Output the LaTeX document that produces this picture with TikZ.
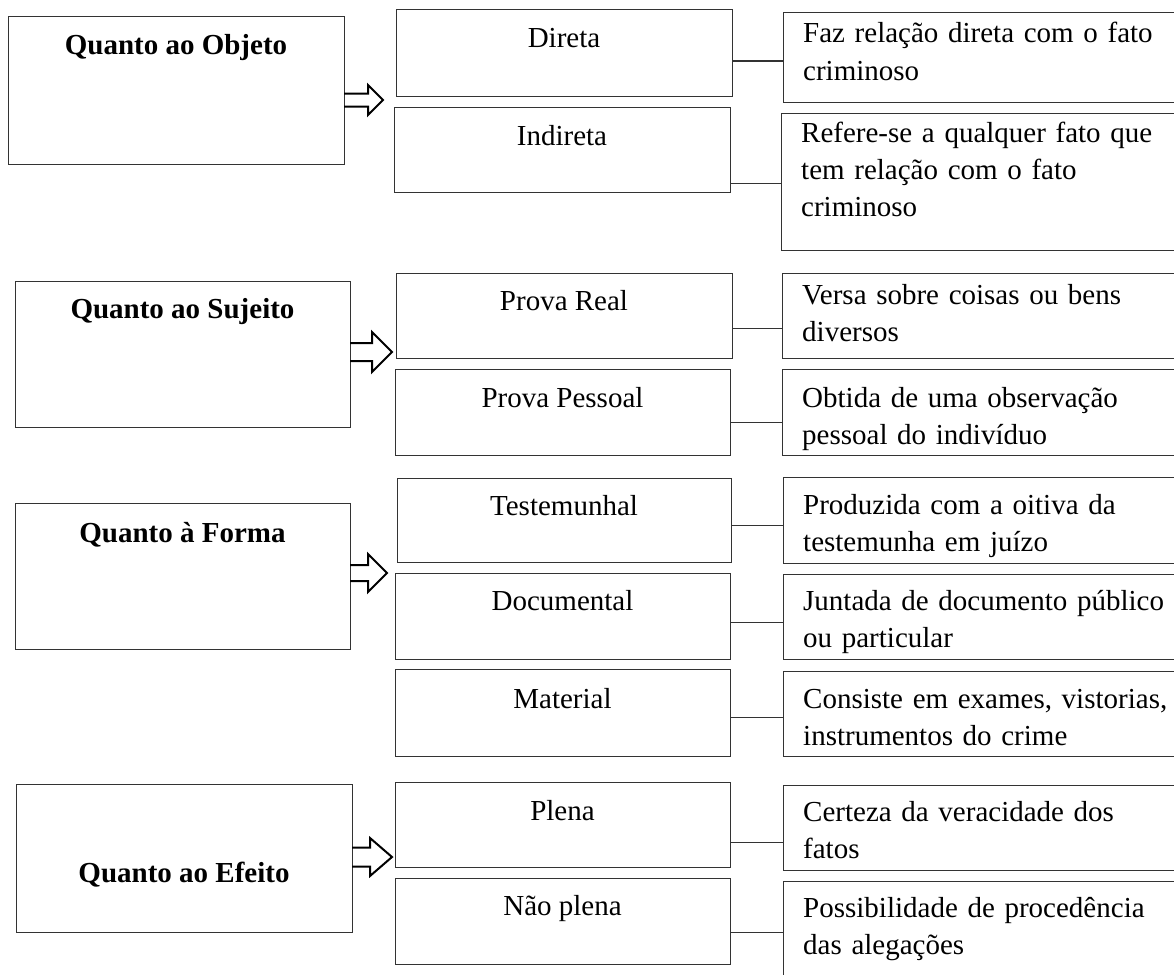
\documentclass[tikz,border=0pt]{standalone}
\usepackage{fontspec}
\setmainfont{Liberation Serif}
\tikzset{
  box/.style={draw=black!80, line width=1pt, inner sep=0pt, outer sep=0pt, fill=none},
  midtxt/.style={anchor=base, inner sep=0pt, font=\fontsize{29}{37}\selectfont},
  ttl/.style={anchor=base, inner sep=0pt, font=\fontsize{29}{37}\selectfont\bfseries},
  rtxt/.style={anchor=base west, inner sep=0pt, text width=380pt, align=left, font=\fontsize{29}{37}\selectfont},
  link/.style={draw=black!80, line width=1pt},
  blk/.style={draw=black, line width=2pt, line join=miter}
}
\newcommand\bx[5]{\node[box, minimum width={(#4-#2)*1pt}, minimum height={(#5-#3)*1pt}] (#1) at ({(#2+#4)/2},{(#3+#5)/2}) {};}
\begin{document}
\begin{tikzpicture}[x=1pt,y=-1pt]
\useasboundingbox (0,0) rectangle (1174,974);
\clip (0,0) rectangle (1174,974);
% left boxes
\bx{L1}{8}{17}{344}{164}
\bx{L2}{15}{281}{350}{427}
\bx{L3}{15}{503}{350}{649}
\bx{L4}{16}{784}{352}{932}
\node[ttl] (tL1) at (L1.center |- 0,55) {Quanto ao Objeto};
\node[ttl] (tL2) at (L2.center |- 0,318) {Quanto ao Sujeito};
\node[ttl] (tL3) at (L3.center |- 0,542) {Quanto à Forma};
\node[ttl] (tL4) at (L4.center |- 0,882) {Quanto ao Efeito};
% middle boxes
\bx{M1}{396}{10}{732}{96}
\bx{M2}{394}{107}{730}{192}
\bx{M3}{396}{273}{732}{358}
\bx{M4}{395}{369}{730}{455}
\bx{M5}{397}{478}{731}{562}
\bx{M6}{395}{573}{730}{659}
\bx{M7}{395}{669}{730}{756}
\bx{M8}{395}{782}{730}{867}
\bx{M9}{395}{878}{730}{964}
\node[midtxt] (tM1) at (M1.center |- 0,48) {Direta};
\node[midtxt] (tM2) at (M2.center |- 0,145) {Indireta};
\node[midtxt] (tM3) at (M3.center |- 0,310) {Prova Real};
\node[midtxt] (tM4) at (M4.center |- 0,407) {Prova Pessoal};
\node[midtxt] (tM5) at (M5.center |- 0,515) {Testemunhal};
\node[midtxt] (tM6) at (M6.center |- 0,610) {Documental};
\node[midtxt] (tM7) at (M7.center |- 0,708) {Material};
\node[midtxt] (tM8) at (M8.center |- 0,820) {Plena};
\node[midtxt] (tM9) at (M9.center |- 0,915) {Não plena};
% right boxes
\bx{R1}{783}{13}{1200}{102}
\bx{R2}{781}{113}{1200}{250}
\bx{R3}{782}{273}{1200}{358}
\bx{R4}{782}{369}{1200}{455}
\bx{R5}{783}{477}{1200}{563}
\bx{R6}{783}{574}{1200}{659}
\bx{R7}{783}{671}{1200}{756}
\bx{R8}{783}{785}{1200}{870}
\bx{R9}{783}{881}{1200}{1000}
\node[rtxt] (tR1) at (803,43) {Faz relação direta com o fato\\criminoso};
\node[rtxt] (tR2) at (801,142) {Refere-se a qualquer fato que\\tem relação com o fato\\criminoso};
\node[rtxt] (tR3) at (802,304) {Versa sobre coisas ou bens\\diversos};
\node[rtxt] (tR4) at (802,407) {Obtida de uma observação\\pessoal do indivíduo};
\node[rtxt] (tR5) at (803,514) {Produzida com a oitiva da\\testemunha em juízo};
\node[rtxt] (tR6) at (803,610) {Juntada de documento público\\ou particular};
\node[rtxt] (tR7) at (803,708) {Consiste em exames, vistorias,\\instrumentos do crime};
\node[rtxt] (tR8) at (803,821) {Certeza da veracidade dos\\fatos};
\node[rtxt] (tR9) at (803,917) {Possibilidade de procedência\\das alegações};
% connectors
\draw[link] (M1.east |- 0,61) -- (R1.west |- 0,61);
\draw[link] (M2.east |- 0,183) -- (R2.west |- 0,183);
\draw[link] (M3.east |- 0,328) -- (R3.west |- 0,328);
\draw[link] (M4.east |- 0,422) -- (R4.west |- 0,422);
\draw[link] (M5.east |- 0,525) -- (R5.west |- 0,525);
\draw[link] (M6.east |- 0,622) -- (R6.west |- 0,622);
\draw[link] (M7.east |- 0,717) -- (R7.west |- 0,717);
\draw[link] (M8.east |- 0,842) -- (R8.west |- 0,842);
\draw[link] (M9.east |- 0,932) -- (R9.west |- 0,932);
% block arrows
\draw[blk] (L1.east |- 0,93.5) -- (368,93.5) -- (368,85) -- (383,100) -- (368,115) -- (368,106.5) -- (L1.east |- 0,106.5);
\draw[blk] (L2.east |- 0,343) -- (372,343) -- (372,332) -- (392,352) -- (372,372) -- (372,361) -- (L2.east |- 0,361);
\draw[blk] (L3.east |- 0,565) -- (368,565) -- (368,554) -- (387,573) -- (368,592) -- (368,581) -- (L3.east |- 0,581);
\draw[blk] (L4.east |- 0,847.5) -- (370,847.5) -- (370,838) -- (392,857) -- (370,876) -- (370,866.5) -- (L4.east |- 0,866.5);
\end{tikzpicture}
\end{document}
